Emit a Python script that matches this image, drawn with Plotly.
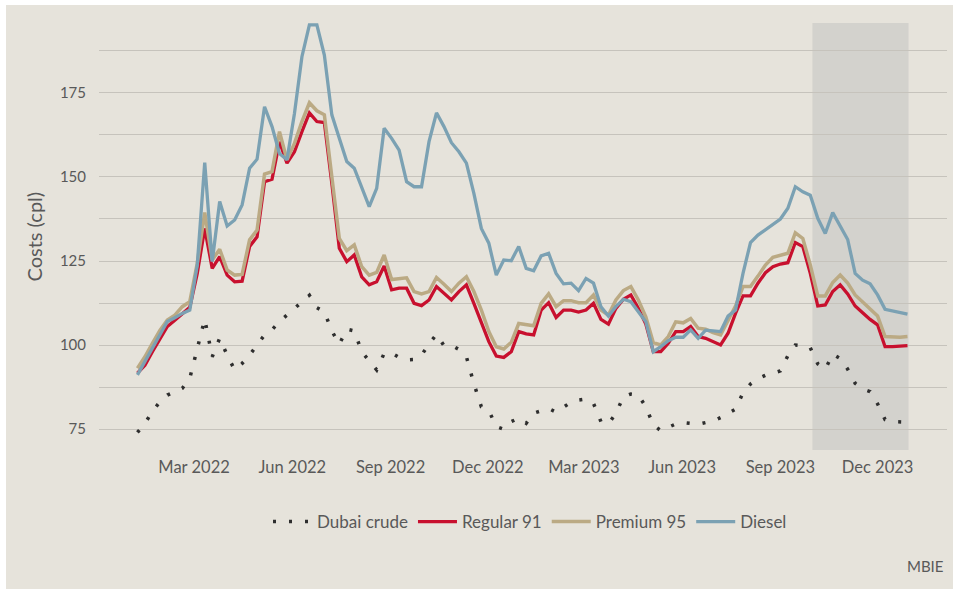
import pandas as pd
import plotly.graph_objects as go

# ---------------- data (weekly) ----------------
START_DATE = "2022-01-07"
N_WEEKS = 104

dubai_crude = [
    74.0, 76.7, 80.2, 83.1, 85.1, 86.1, 87.1, 90.1, 98.5, 107.7,
    96.5, 102.0, 97.0, 92.6, 94.5, 97.0, 100.0, 103.0, 104.5, 107.0,
    108.9, 110.9, 112.9, 114.8, 111.1, 109.9, 104.2, 100.2, 104.7, 104.2,
    98.0, 95.3, 92.6, 97.5, 97.6, 96.3, 95.6, 95.7, 97.0, 100.3,
    103.2, 99.8, 99.9, 98.7, 96.5, 88.5, 81.6, 80.5, 75.7, 74.9,
    77.2, 78.2, 76.7, 79.7, 80.5, 81.1, 80.0, 81.6, 83.0, 83.6,
    83.9, 82.6, 77.2, 76.5, 79.7, 84.6, 85.4, 85.1, 81.6, 76.2,
    74.5, 75.5, 76.5, 76.9, 76.7, 76.4, 76.9, 77.4, 78.4, 79.7,
    80.9, 85.8, 88.4, 90.0, 91.0, 91.6, 92.3, 96.8, 100.0, 99.8,
    99.2, 94.4, 92.8, 97.3, 96.0, 92.8, 88.6, 86.9, 86.1, 82.5,
    77.8, 77.2, 77.0, 77.0,
]

regular_91 = [
    91.6, 94.0, 98.0, 102.0, 105.5, 107.4, 109.4, 111.2, 121.3, 134.7,
    122.8, 126.3, 120.8, 118.8, 119.0, 129.3, 132.2, 148.6, 149.3, 160.5,
    154.1, 157.5, 163.5, 169.1, 166.5, 166.2, 148.1, 128.8, 124.8, 126.8,
    120.3, 117.9, 118.8, 123.5, 116.4, 116.9, 116.9, 112.4, 111.7, 113.4,
    117.4, 115.4, 113.4, 115.9, 117.9, 112.4, 106.9, 101.0, 96.7, 96.3,
    98.0, 104.0, 103.3, 103.0, 110.4, 112.6, 108.2, 110.4, 110.4, 109.8,
    110.4, 112.4, 107.6, 106.2, 110.9, 113.6, 114.9, 110.9, 106.2, 98.0,
    98.0, 100.5, 104.0, 104.0, 105.5, 102.5, 102.0, 101.0, 100.0, 103.5,
    109.4, 114.6, 114.6, 118.4, 121.5, 123.3, 124.1, 124.5, 130.5, 129.3,
    121.3, 111.6, 111.9, 115.9, 117.9, 115.2, 111.6, 109.6, 107.6, 106.0,
    99.5, 99.5, 99.7, 99.8,
]

premium_95 = [
    93.1, 96.5, 100.5, 104.3, 107.4, 108.9, 111.4, 112.9, 124.3, 139.4,
    125.3, 128.5, 122.3, 120.8, 121.0, 131.3, 134.2, 150.9, 151.6, 163.5,
    155.1, 160.0, 166.5, 172.1, 169.7, 168.5, 150.1, 131.7, 128.1, 129.8,
    123.3, 120.8, 121.6, 126.8, 119.5, 119.8, 120.0, 115.9, 115.2, 115.9,
    120.1, 118.1, 115.9, 118.4, 120.3, 115.9, 110.4, 104.0, 99.5, 98.8,
    100.8, 106.4, 106.1, 105.7, 112.4, 115.2, 111.4, 113.2, 113.2, 112.6,
    112.6, 114.9, 110.4, 108.9, 113.4, 116.2, 117.4, 113.4, 108.4, 100.7,
    100.0, 102.5, 106.9, 106.6, 107.9, 105.0, 104.7, 103.7, 103.0, 107.4,
    111.6, 117.4, 117.4, 120.5, 123.8, 126.1, 126.8, 127.3, 133.4, 131.7,
    123.8, 114.6, 114.6, 118.6, 120.8, 118.4, 114.9, 112.9, 110.9, 108.6,
    102.5, 102.3, 102.3, 102.5,
]

diesel = [
    91.1, 95.0, 99.0, 103.0, 107.0, 108.1, 109.4, 110.4, 123.8, 154.3,
    124.8, 142.7, 135.4, 137.2, 141.7, 152.6, 155.3, 170.9, 165.0, 157.0,
    155.1, 168.9, 185.8, 195.3, 195.3, 186.3, 168.5, 161.5, 154.6, 152.6,
    146.6, 141.2, 146.6, 164.5, 161.5, 158.0, 148.6, 147.1, 147.1, 160.5,
    169.1, 165.0, 160.2, 157.5, 154.1, 145.1, 134.7, 130.3, 120.8, 125.3,
    125.1, 129.3, 122.8, 122.1, 126.5, 127.3, 121.3, 118.2, 118.4, 116.2,
    119.8, 118.4, 111.4, 108.6, 111.4, 113.6, 112.9, 109.9, 106.9, 98.0,
    99.5, 101.3, 102.3, 102.3, 104.5, 102.0, 104.4, 104.2, 104.0, 108.6,
    110.4, 121.3, 130.5, 132.7, 134.4, 136.0, 137.5, 140.7, 147.1, 145.6,
    144.6, 137.7, 133.2, 139.4, 135.4, 131.4, 121.3, 119.3, 118.2, 114.9,
    110.6, 110.2, 109.6, 109.2,
]

series_names = ["Dubai crude", "Regular 91", "Premium 95", "Diesel"]

x_tick_dates = ["2022-03-01", "2022-06-01", "2022-09-01", "2022-12-01",
                "2023-03-01", "2023-06-01", "2023-09-01", "2023-12-01"]
x_tick_labels = ["Mar 2022", "Jun 2022", "Sep 2022", "Dec 2022",
                 "Mar 2023", "Jun 2023", "Sep 2023", "Dec 2023"]

y_tick_values = [75, 87.5, 100, 112.5, 125, 137.5, 150, 162.5, 175, 187.5]
y_tick_labels = ["75", "", "100", "", "125", "", "150", "", "175", ""]

shade_start, shade_end = "2023-10-01", "2023-12-30"
x_range = ["2021-12-02", "2024-02-04"]
y_range = [68.75, 195.83]

dates = pd.date_range(START_DATE, periods=N_WEEKS, freq="7D")

# ---------------- styling ----------------
FONT = "Lato, 'Open Sans', sans-serif"
TEXT = "#595959"
BEIGE = "#E6E3DB"
SHADE = "#D3D2CD"
GRID = "#C6C3BC"

fig = go.Figure()
fig.add_trace(go.Scatter(x=dates, y=dubai_crude, mode="lines", name=series_names[0],
                         line=dict(color="#2E2E2E", width=3.5, dash="3px,13px")))
fig.add_trace(go.Scatter(x=dates, y=regular_91, mode="lines", name=series_names[1],
                         line=dict(color="#C8102E", width=3.3)))
fig.add_trace(go.Scatter(x=dates, y=premium_95, mode="lines", name=series_names[2],
                         line=dict(color="#BBAA84", width=3.5)))
fig.add_trace(go.Scatter(x=dates, y=diesel, mode="lines", name=series_names[3],
                         line=dict(color="#7BA1B3", width=3.3)))

W, H = 953, 589
ML, MR, MT, MB = 99, 6, 23, 139
pw, ph = W - ML - MR, H - MT - MB


def px_to_paper_x(px):
    return (px - ML) / pw


def px_to_paper_y(py):
    return (H - MB - py) / ph


shapes = [
    # beige panel (white strip left/top)
    dict(type="rect", xref="paper", yref="paper", layer="below",
         x0=px_to_paper_x(6), x1=px_to_paper_x(W + 2), y0=px_to_paper_y(H + 2), y1=px_to_paper_y(5),
         fillcolor=BEIGE, line=dict(width=0)),
    # shaded period
    dict(type="rect", xref="x", yref="paper", layer="below",
         x0=shade_start, x1=shade_end, y0=0, y1=1,
         fillcolor=SHADE, line=dict(width=0)),
]

fig.update_layout(
    width=W, height=H,
    margin=dict(l=ML, r=MR, t=MT, b=MB, pad=0),
    paper_bgcolor="white",
    plot_bgcolor="rgba(0,0,0,0)",
    font=dict(family=FONT, color=TEXT, size=16),
    shapes=shapes,
    showlegend=True,
    legend=dict(orientation="h", xref="container", yref="container",
                x=530 / W, xanchor="center", y=1 - 522 / H, yanchor="middle",
                bgcolor="rgba(0,0,0,0)", font=dict(size=17, color=TEXT),
                itemwidth=39, traceorder="normal"),
    annotations=[
        dict(text="Costs (cpl)", xref="paper", yref="paper", x=px_to_paper_x(33), y=0.5,
             textangle=-90, showarrow=False, xanchor="center", yanchor="middle",
             font=dict(size=20, color=TEXT, family=FONT)),
        dict(text="MBIE", xref="paper", yref="paper", x=px_to_paper_x(946), y=px_to_paper_y(566),
             showarrow=False, xanchor="right", yanchor="middle",
             font=dict(size=15, color=TEXT, family=FONT)),
    ],
)

fig.update_xaxes(range=x_range, tickmode="array", tickvals=x_tick_dates, ticktext=x_tick_labels,
                 showgrid=False, zeroline=False, showline=False,
                 ticks="outside", ticklen=2, tickcolor="rgba(0,0,0,0)",
                 tickfont=dict(size=16.5, color=TEXT, family=FONT))
fig.update_yaxes(range=y_range, tickmode="array", tickvals=y_tick_values, ticktext=y_tick_labels,
                 showgrid=True, gridcolor=GRID, gridwidth=1.3, zeroline=False, showline=False,
                 ticks="outside", ticklen=9, tickcolor="rgba(0,0,0,0)",
                 tickfont=dict(size=15, color=TEXT, family=FONT))

fig.write_html("out.html", config={"displayModeBar": False},
               post_script="document.body.style.margin='0px';document.body.style.overflow='hidden';")
